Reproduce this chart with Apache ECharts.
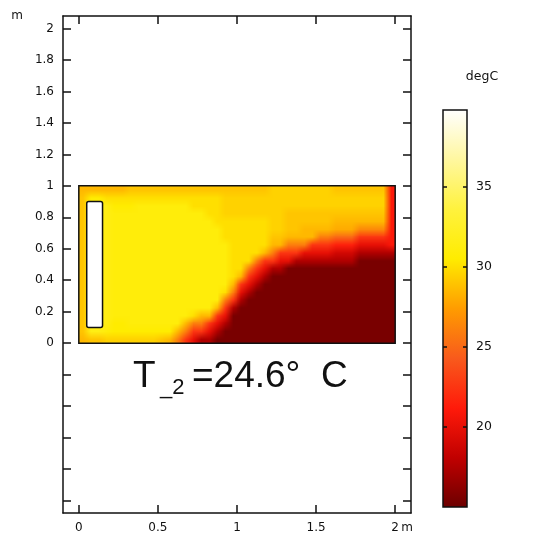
<!doctype html>
<html>
<head>
<meta charset="utf-8">
<title>T_2 = 24.6 C</title>
<script src="https://cdn.jsdelivr.net/npm/echarts@6/dist/echarts.min.js"></script>
<style>
html,body{margin:0;padding:0;background:#fff;}
#main{width:550px;height:550px;}
</style>
</head>
<body>
<div id="main"></div>
<script>
// cell centres of the temperature field (m), 0.05 m cells
var xCenters = [0.025,0.075,0.125,0.175,0.225,0.275,0.325,0.375,0.425,0.475,
                0.525,0.575,0.625,0.675,0.725,0.775,0.825,0.875,0.925,0.975,
                1.025,1.075,1.125,1.175,1.225,1.275,1.325,1.375,1.425,1.475,
                1.525,1.575,1.625,1.675,1.725,1.775,1.825,1.875,1.925,1.975];
var yCenters = [0.025,0.075,0.125,0.175,0.225,0.275,0.325,0.375,0.425,0.475,
                0.525,0.575,0.625,0.675,0.725,0.775,0.825,0.875,0.925,0.975];

// temperature (degC) per row, bottom row first; null = heater
var t00 = [28.5,29,29,29.5,29.5,29.5,29.5,29.5,29.5,29.5,29,28.5,26,22.5,20,17.5,17.5,15.5,15.5,15.5,15.5,15.5,15.5,15.5,15.5,15.5,15.5,15.5,15.5,15.5,15.5,15.5,15.5,15.5,15.5,15.5,15.5,15.5,15.5,15.5];
var t01 = [29,31.5,31.5,31,30.5,30.5,30.5,30.5,30.5,30.5,30.5,30.5,28.5,26,22.5,22.5,20,17.5,15.5,15.5,15.5,15.5,15.5,15.5,15.5,15.5,15.5,15.5,15.5,15.5,15.5,15.5,15.5,15.5,15.5,15.5,15.5,15.5,15.5,15.5];
var t02 = [29,null,null,31.5,30.5,30.5,31,31,31,31,31,31,31,28.5,26,26,22.5,20,17.5,15.5,15.5,15.5,15.5,15.5,15.5,15.5,15.5,15.5,15.5,15.5,15.5,15.5,15.5,15.5,15.5,15.5,15.5,15.5,15.5,15.5];
var t03 = [29,null,null,31.5,31,31,31,31,31,31,31,31,31,31,30,28.5,28.5,22.5,20,15.5,15.5,15.5,15.5,15.5,15.5,15.5,15.5,15.5,15.5,15.5,15.5,15.5,15.5,15.5,15.5,15.5,15.5,15.5,15.5,15.5];
var t04 = [29,null,null,31.5,31,31,31,31,31,31,31,31,31,31,31,31,31,28.5,22.5,17.5,15.5,15.5,15.5,15.5,15.5,15.5,15.5,15.5,15.5,15.5,15.5,15.5,15.5,15.5,15.5,15.5,15.5,15.5,15.5,15.5];
var t05 = [29,null,null,31.5,31,31,31,31,31,31,31,31,31,31,31,31,31,31,26,22.5,17.5,15.5,15.5,15.5,15.5,15.5,15.5,15.5,15.5,15.5,15.5,15.5,15.5,15.5,15.5,15.5,15.5,15.5,15.5,15.5];
var t06 = [29,null,null,31.5,31,31,31,31,31,31,31,31,31,31,31,31,31,31,30,26,20,17.5,15.5,15.5,15.5,15.5,15.5,15.5,15.5,15.5,15.5,15.5,15.5,15.5,15.5,15.5,15.5,15.5,15.5,15.5];
var t07 = [29,null,null,31.5,31,31,31,31,31,31,31,31,31,31,31,31,31,31,31,28.5,22.5,20,17.5,15.5,15.5,15.5,15.5,15.5,15.5,15.5,15.5,15.5,15.5,15.5,15.5,15.5,15.5,15.5,15.5,15.5];
var t08 = [29,null,null,31.5,31,31,31,31,31,31,31,31,31,31,31,31,31,31,31,30,28.5,22.5,20,17.5,15.5,15.5,15.5,15.5,15.5,15.5,15.5,15.5,15.5,15.5,15.5,15.5,15.5,15.5,15.5,15.5];
var t09 = [29,null,null,31.5,31,31,31,31,31,31,31,31,31,31,31,31,31,31,31,30,30,26,22.5,20,17.5,17.5,15.5,15.5,15.5,15.5,15.5,15.5,15.5,15.5,15.5,15.5,15.5,15.5,15.5,15.5];
var t10 = [29,null,null,31.5,31,31,31,31,31,31,31,31,31,31,31,31,31,31,31,30,30,30,26,22.5,22.5,20,20,17.5,17.5,17.5,17.5,17.5,17.5,17.5,17.5,15.5,15.5,15.5,15.5,15.5];
var t11 = [29,null,null,31.5,31,31,31,31,31,31,31,31,31,31,31,31,31,31,31,30,30,30,30,28.5,26,22.5,22.5,22.5,20,20,20,20,19,19,19,17.5,17.5,17.5,17.5,17.5];
var t12 = [29,null,null,31.5,31,31,31,31,31,31,31,31,31,31,31,31,31,31,31,30,30,30,30,30,28.5,28.5,26,26,26,22.5,22.5,22.5,21.5,21.5,21.5,20,20,20,20,21];
var t13 = [29,null,null,31.5,31,31,31,31,31,31,31,31,31,31,31,31,31,31,30,30,30,30,30,30,29,29,28.5,28.5,28.5,28.5,26,26,25,25,25,22.5,22.5,22.5,22.5,21];
var t14 = [29,null,null,31.5,31,31,31,31,31,31,31,31,31,31,31,31,31,31,30,30,30,30,30,30,29.5,29.5,29,29,28.5,28.5,28.5,28.5,28,28,28,26.5,26.5,26.5,26.5,21];
var t15 = [29,null,null,31.5,31,31,31,31,31,31,31,31,31,31,31,31,31,30,30,30,30,30,30,30,29.5,29.5,29,29,29,29,29,29,28.5,28.5,28.5,28.5,28.5,28.5,28.5,21];
var t16 = [29,null,null,31.5,31,31,31,31,31,31,31,31,31,31,31,31,30,30,29.5,29.5,29.5,29.5,29.5,29.5,29.5,29.5,29,29,29,29,29,29,29,29,29,29,29,29,29,21];
var t17 = [29,null,null,31.5,30.5,30.5,30.5,31,31,31,31,31,31,31,30,30,30,30,29.5,29.5,29.5,29.5,29.5,29.5,29.5,29.5,29.5,29.5,29.5,29.5,29.5,29.5,29.5,29.5,29.5,29.5,29.5,29.5,29.5,21];
var t18 = [29,30.5,30.5,30,30,30,30,30,30,30,30,30,30,30,30,30,30,30,29.5,29.5,29.5,29.5,29.5,29.5,29.5,29.5,29.5,29.5,29.5,29.5,29.5,29.5,29.5,29.5,29.5,29.5,29.5,29.5,29.5,21];
var t19 = [28.5,28.5,28.5,28.5,28.5,28.5,29,29,29,29,29,29,29,29,29,29,29,29,29,29,29,29,29,29,29.5,29.5,29.5,29.5,29.5,29.5,29.5,29.5,29,29,29,29,29,29,29,21];
var tRows = [t00,t01,t02,t03,t04,t05,t06,t07,t08,t09,t10,t11,t12,t13,t14,t15,t16,t17,t18,t19];

var cellSize = 0.05;
var domainBox = [0, 0, 2, 1];          // x0, y0, x1, y1
var heaterBox = [0.05, 0.1, 0.15, 0.9];

var xTicks = [0, 0.5, 1, 1.5, 2];
var yTicks = [-1,-0.8,-0.6,-0.4,-0.2,0,0.2,0.4,0.6,0.8,1,1.2,1.4,1.6,1.8,2];
var yLabels = [0,0.2,0.4,0.6,0.8,1,1.2,1.4,1.6,1.8,2];
var cbTicks = [20, 25, 30, 35];
var tMin = 15, tMax = 39.8;
var tempColors = ['#6b0000','#c00000','#ff1a0a','#f85a1c','#ff9c00','#ffec00','#fff23e','#fff7a0','#ffffff'];

function tempColor(t){
	return echarts.color.lerp((t - tMin) / (tMax - tMin), tempColors);
}

// small bitmap of the field, one pixel per cell plus a copied edge ring,
// the browser smooths it when it is stretched over the domain
var nx = xCenters.length, ny = yCenters.length;
var fieldCanvas = document.createElement('canvas');
fieldCanvas.width = nx + 2;
fieldCanvas.height = ny + 2;
(function(){
	var ctx = fieldCanvas.getContext('2d');
	for (var py = 0; py < ny + 2; py++) {
		var j = Math.min(ny - 1, Math.max(0, ny - py));   // canvas row 0 is the top
		for (var px = 0; px < nx + 2; px++) {
			var i = Math.min(nx - 1, Math.max(0, px - 1));
			var t = tRows[j][i];
			if (t === null) t = 31.5;   // under the heater, hidden by it
			ctx.fillStyle = tempColor(t);
			ctx.fillRect(px, py, 1, 1);
		}
	}
})();

var axisColor = '#111';
var tickFont = {fontSize: 12, color: '#111', fontFamily: 'DejaVu Sans'};

function frameAxis(pos, isX, labels){
	var ax = {
		type: 'value',
		gridIndex: 0,
		position: pos,
		min: isX ? -0.1 : -1.08,
		max: isX ? 2.1 : 2.08,
		axisLine: {show: true, onZero: false, lineStyle: {color: axisColor, width: 1.5}},
		axisTick: {show: true, inside: true, length: 8, customValues: isX ? xTicks : yTicks,
			lineStyle: {color: axisColor, width: 1.5}},
		axisLabel: {show: false},
		splitLine: {show: false},
		z: 10
	};
	if (labels) {
		ax.axisLabel = Object.assign({show: true, margin: 9, customValues: labels,
			formatter: function(v){ return String(+(+v).toFixed(1)); }}, tickFont);
	}
	return ax;
}

var chart = echarts.init(document.getElementById('main'));
var option = {
	animation: false,
	backgroundColor: '#fff',
	grid: [
		{left: 63, top: 16, width: 348, height: 497, outerBoundsMode: 'none'},
		{left: 443, top: 110, width: 24, height: 397, outerBoundsMode: 'none'}
	],
	xAxis: [
		frameAxis('bottom', true, xTicks),
		frameAxis('top', true, null),
		{type: 'value', gridIndex: 1, show: false, min: 0, max: 1}
	],
	yAxis: [
		frameAxis('left', false, yLabels),
		frameAxis('right', false, null),
		{type: 'value', gridIndex: 1, position: 'left', min: tMin, max: tMax,
			axisLine: {show: false}, splitLine: {show: false}, axisLabel: {show: false},
			axisTick: {show: true, inside: true, length: 4, customValues: cbTicks, lineStyle: {color: axisColor, width: 1.5}}, z: 10},
		{type: 'value', gridIndex: 1, position: 'right', min: tMin, max: tMax,
			axisLine: {show: false}, splitLine: {show: false},
			axisLabel: {margin: 9, customValues: cbTicks, fontSize: 12.5, color: '#111', fontFamily: 'DejaVu Sans'},
			axisTick: {show: true, inside: true, length: 4, customValues: cbTicks, lineStyle: {color: axisColor, width: 1.5}}, z: 10}
	],
	series: [
		{
			// temperature field
			type: 'custom',
			xAxisIndex: 0,
			yAxisIndex: 0,
			data: [domainBox],
			silent: true,
			renderItem: function(params, api){
				var p0 = api.coord([api.value(0), api.value(3)]);
				var p1 = api.coord([api.value(2), api.value(1)]);
				var q0 = api.coord([api.value(0) - cellSize, api.value(3) + cellSize]);
				var q1 = api.coord([api.value(2) + cellSize, api.value(1) - cellSize]);
				return {
					type: 'group',
					clipPath: {type: 'rect', shape: {x: p0[0], y: p0[1], width: p1[0] - p0[0], height: p1[1] - p0[1]}},
					children: [{
						type: 'image',
						style: {image: fieldCanvas, x: q0[0], y: q0[1], width: q1[0] - q0[0], height: q1[1] - q0[1]}
					}]
				};
			}
		},
		{
			// domain and heater outlines
			type: 'custom',
			xAxisIndex: 0,
			yAxisIndex: 0,
			data: [domainBox.concat(0), heaterBox.concat(1)],
			silent: true,
			z: 5,
			renderItem: function(params, api){
				var p0 = api.coord([api.value(0), api.value(3)]);
				var p1 = api.coord([api.value(2), api.value(1)]);
				var heater = api.value(4) === 1;
				return {
					type: 'rect',
					shape: {x: p0[0], y: p0[1], width: p1[0] - p0[0], height: p1[1] - p0[1], r: heater ? 2 : 0},
					style: {fill: heater ? '#fff' : 'none', stroke: '#111', lineWidth: 1.5}
				};
			}
		}
	],
	graphic: [
		{
			type: 'rect', z: 1,
			shape: {x: 443, y: 110, width: 24, height: 397},
			style: {
				stroke: '#111', lineWidth: 1.5,
				fill: new echarts.graphic.LinearGradient(0, 1, 0, 0, tempColors.map(function(c, k){
					return {offset: k / (tempColors.length - 1), color: c};
				}))
			}
		},
		{type: 'text', x: 482, y: 77, style: {text: 'degC', fill: '#111', font: '12.5px "DejaVu Sans"', align: 'center', verticalAlign: 'middle'}},
		{type: 'text', x: 17, y: 16, style: {text: 'm', fill: '#111', font: '12px "DejaVu Sans"', align: 'center', verticalAlign: 'middle'}},
		{type: 'text', x: 407, y: 528, style: {text: 'm', fill: '#111', font: '12px "DejaVu Sans"', align: 'center', verticalAlign: 'middle'}},
		{type: 'text', x: 133, y: 377, style: {text: 'T', fill: '#111', font: '37px "Liberation Sans"', align: 'left', verticalAlign: 'middle'}},
		{type: 'text', x: 160, y: 388, style: {text: '_2', fill: '#111', font: '22px "Liberation Sans"', align: 'left', verticalAlign: 'middle'}},
		{type: 'text', x: 192, y: 377, style: {text: '=24.6\u00b0  C', fill: '#111', font: '37px "Liberation Sans"', align: 'left', verticalAlign: 'middle'}}
	]
};
chart.setOption(option);
</script>
</body>
</html>
